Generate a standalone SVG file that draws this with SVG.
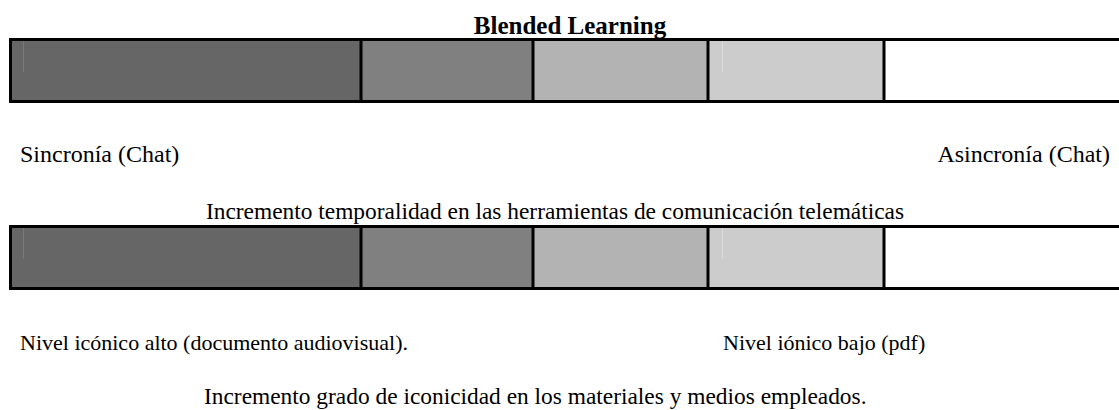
<svg xmlns="http://www.w3.org/2000/svg" width="1119" height="410" viewBox="0 0 1119 410">
<style>
text{font-family:'Liberation Serif','Times New Roman','DejaVu Serif',serif;font-size:23.4px;fill:#000}
.b{font-weight:bold;font-size:25px}
.m{font-size:24px}
.n{font-size:22px}
.bd{stroke:#000;stroke-width:3;fill:none}
.s1{fill:#666666}.s2{fill:#808080}.s3{fill:#b3b3b3}.s4{fill:#cccccc}.s5{fill:#ffffff}
.art{stroke:#7a7a7a;stroke-width:1}
.art2{stroke:#dcdcdc;stroke-width:1}
</style>
<rect width="1119" height="410" fill="#fff"/>
<g id="title"><text class="b" x="570" y="34" text-anchor="middle">Blended Learning</text></g>
<g id="bar1">
<rect class="s1" x="10" y="39" width="351" height="63"/>
<rect class="s2" x="361" y="39" width="172" height="63"/>
<rect class="s3" x="533" y="39" width="175" height="63"/>
<rect class="s4" x="708" y="39" width="176" height="63"/>
<rect class="s5" x="884" y="39" width="235" height="63"/>
<line class="art" x1="23.5" y1="41" x2="23.5" y2="72"/>
<line class="art2" x1="722.5" y1="41" x2="722.5" y2="72"/>
<path class="bd" d="M1119 39.5H10.5V101.5H1119M361 39.5V101.5M533 39.5V101.5M708 39.5V101.5M884 39.5V101.5"/>
</g>
<g id="labels1">
<text class="m" x="20" y="162">Sincronía (Chat)</text>
<text class="m" x="1110" y="162" text-anchor="end">Asincronía (Chat)</text>
<text x="555" y="219" text-anchor="middle">Incremento temporalidad en las herramientas de comunicación telemáticas</text>
</g>
<g id="bar2">
<rect class="s1" x="10" y="226" width="351" height="63"/>
<rect class="s2" x="361" y="226" width="172" height="63"/>
<rect class="s3" x="533" y="226" width="175" height="63"/>
<rect class="s4" x="708" y="226" width="176" height="63"/>
<rect class="s5" x="884" y="226" width="235" height="63"/>
<line class="art" x1="23.5" y1="228" x2="23.5" y2="259"/>
<line class="art2" x1="722.5" y1="228" x2="722.5" y2="259"/>
<path class="bd" d="M1119 226.5H10.5V288.5H1119M361 226.5V288.5M533 226.5V288.5M708 226.5V288.5M884 226.5V288.5"/>
</g>
<g id="labels2">
<text class="n" x="20" y="350">Nivel icónico alto (documento audiovisual).</text>
<text class="n" x="723" y="350">Nivel iónico bajo (pdf)</text>
<text x="204" y="404">Incremento grado de iconicidad en los materiales y medios empleados.</text>
</g>
</svg>
